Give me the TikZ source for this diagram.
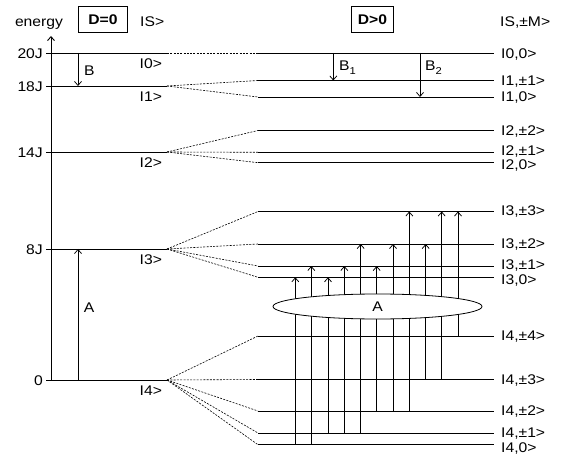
\documentclass[tikz,border=0pt]{standalone}
\usepackage{fontspec}
\setmainfont{Liberation Sans}[FakeStretch=1.12]
\usetikzlibrary{arrows.meta,shapes.geometric}
\begin{document}
\begin{tikzpicture}[x=1pt,y=-1pt,
  every node/.style={font=\fontsize{14}{16}\selectfont, inner sep=0pt},
  level/.style={line width=0.9pt},
  split/.style={line width=0.6pt, dash pattern=on 2pt off 1.3pt},
  tip/.style={-{Straight Barb[length=4pt,width=7pt]}},
  trans/.style={line width=0.75pt, tip},
  hdr/.style={draw, line width=0.8pt, font=\bfseries\fontsize{14}{16}\selectfont,
              minimum height=26.5pt, inner sep=0pt}
]
\useasboundingbox (0,0) rectangle (565,457);

% headers
\node[anchor=base] (energy) at (39,27) {energy};
\node[hdr, minimum width=49.5pt] (dzero) at (103,19.5) {D=0};
\node[anchor=base west] (ket) at (140,27) {IS>};
\node[hdr, minimum width=41.5pt] (dpos) at (372.5,19.5) {D>0};
\node[anchor=base west] (ketm) at (500,27) {IS,±M>};

% energy axis
\coordinate (axb) at (51,380);
\coordinate (axt) at (51,36);
\draw[level, tip] (axb) -- (axt);

% zero-field levels |S>
\foreach \n/\y/\e in {0/53/20J,1/86/18J,2/152/14J,3/249/8J,4/380/0} {
  \coordinate (L\n a) at (46,\y);
  \coordinate (L\n b) at (167,\y);
  \draw[level] (L\n a) -- (L\n b);
  \node[anchor=east] (E\n) at (43,\y+1) {\e};
  \node[anchor=west] (K\n) at (139.5,\y+11) {I\n>};
}

% split levels |S,M> and their dashed links to the parent level
\foreach \s/\m/\y/\t/\o in {
  0/0/53/{I0,0>}/1.5,
  1/1/80.5/{I1,±1>}/1,
  1/0/97/{I1,0>}/1,
  2/2/130.5/{I2,±2>}/1,
  2/1/152.3/{I2,±1>}/-0.5,
  2/0/162.7/{I2,0>}/3,
  3/3/211.5/{I3,±3>}/0.5,
  3/2/244/{I3,±2>}/0.5,
  3/1/266/{I3,±1>}/-0.5,
  3/0/277.3/{I3,0>}/3,
  4/4/336/{I4,±4>}/1,
  4/3/379.5/{I4,±3>}/1,
  4/2/411/{I4,±2>}/1,
  4/1/433/{I4,±1>}/0.5,
  4/0/444.7/{I4,0>}/4} {
  \coordinate (R\s\m a) at (258,\y);
  \coordinate (R\s\m b) at (494,\y);
  \draw[level] (R\s\m a) -- (R\s\m b);
  \draw[split] (L\s b) -- (R\s\m a);
  \node[anchor=west] (M\s\m) at (501,\y+\o) {\t};
}

% zero-field transitions
\coordinate (xb) at (78,0);
\draw[trans] (xb |- L0a) -- (xb |- L1a);
\node[anchor=west] (lb) at (84,71) {B};
\draw[trans] (xb |- L4a) -- (xb |- L3a);
\node (la) at (89,308) {A};

% B transitions in field
\coordinate (xb1) at (333.3,0);
\coordinate (xb2) at (420,0);
\draw[trans] (xb1 |- R00a) -- (xb1 |- R11a);
\draw[trans] (xb2 |- R00a) -- (xb2 |- R10a);
\node[anchor=west] (lb1) at (339,68) {B\raisebox{-4pt}{\fontsize{10}{10}\selectfont 1}};
\node[anchor=west] (lb2) at (425,68) {B\raisebox{-4pt}{\fontsize{10}{10}\selectfont 2}};

% A transitions |4,M> -> |3,M'>
\foreach \i/\x/\f/\t in {1/295.3/40/30, 2/311.3/40/31, 3/328/41/30, 4/344.3/41/31,
    5/360.7/41/32, 6/376.7/42/31, 7/393/42/32, 8/409.3/42/33, 9/425.7/43/32,
    10/441.7/43/33, 11/458/44/33} {
  \coordinate (T\i) at (\x,0);
  \draw[trans] (T\i |- R\f a) -- (T\i |- R\t a);
}
\node[ellipse, draw, fill=white, line width=0.8pt, minimum width=209pt,
      minimum height=25pt] (ella) at (377.5,306.5) {A};
\end{tikzpicture}
\end{document}
